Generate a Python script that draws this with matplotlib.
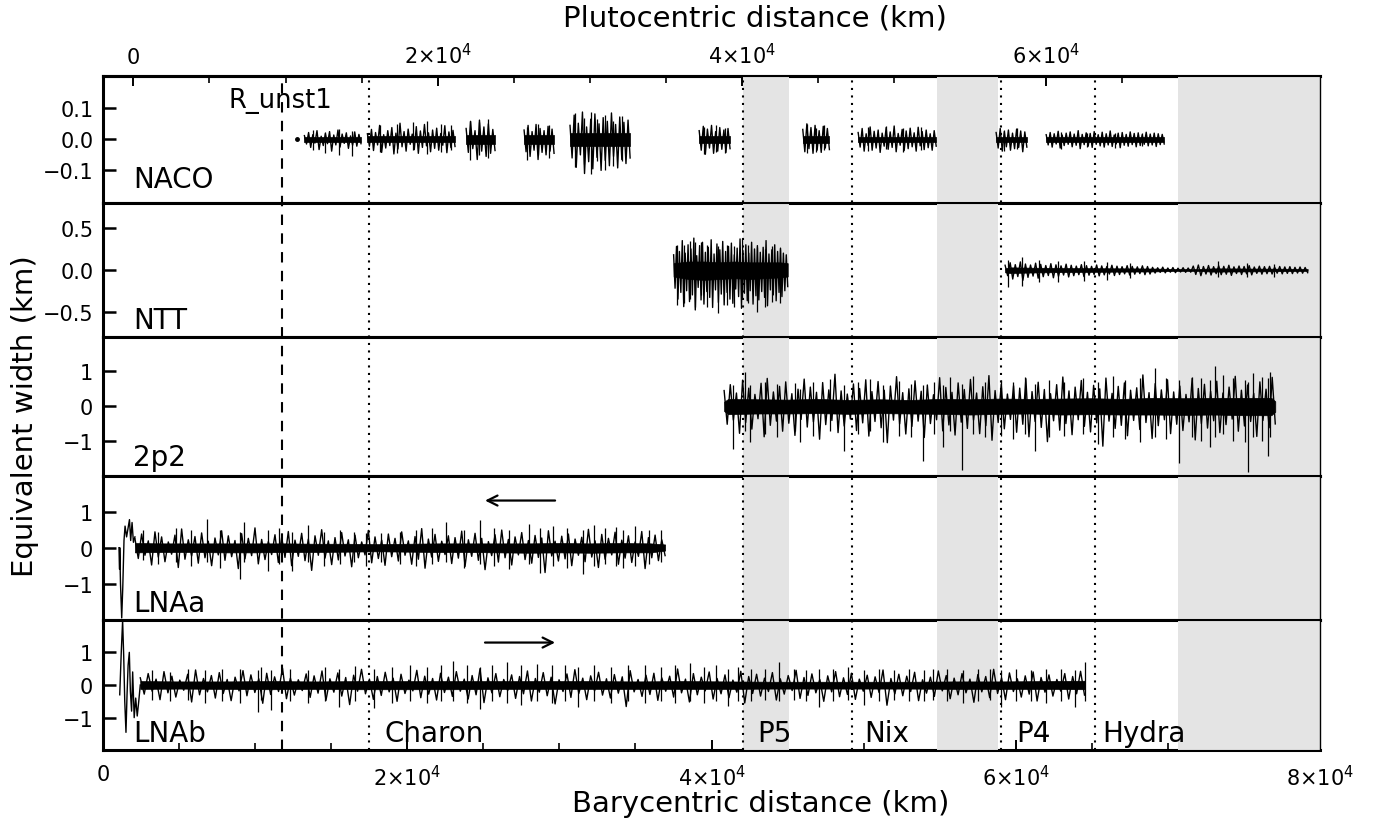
import numpy as np
import matplotlib
matplotlib.use("Agg")
from matplotlib import pyplot as plt
from matplotlib.ticker import FixedLocator, FuncFormatter
from matplotlib.transforms import blended_transform_factory
from matplotlib.lines import Line2D

# ---------------- values (km) ----------------
PLUTO_OFFSET = 2000          # barycentric - plutocentric
R_UNST1 = 11770

MOON_NAMES = ["Charon", "P5", "Nix", "P4", "Hydra"]
MOON_X = [17490, 42040, 49245, 59030, 65195]
MOON_LABEL_X = [18475, 43000, 50030, 60030, 65680]
GREY_START = [42040, 54830, 70665]
GREY_END = [45065, 58825, 80000]

PANELS = ["NACO", "NTT", "2p2", "LNAa", "LNAb"]
PANEL_LABEL_Y = [-0.155, -0.69, -1.68, -1.76, -1.71]

# NACO: separate chunks (dense core, then swings in units of 0.001)
NACO_START = [13240, 17380, 23870, 27680, 30700, 39190, 46000, 49640, 58710, 62000]
NACO_END = [16960, 23140, 25770, 29650, 34650, 41220, 47750, 54770, 60730, 69760]
NACO_HI = [0.008, 0.011, 0.015, 0.013, 0.02, 0.012, 0.012, 0.009, 0.008, 0.007]
NACO_LO = [-0.008, -0.01, -0.015, -0.014, -0.022, -0.013, -0.012, -0.008, -0.008, -0.007]
NACO_DOT = [12730, 0.0]
NACO_MED_UP = [[12, 22, 15, 28, 10, 19, 25, 14, 30, 17, 21, 11, 24, 16],
               [18, 32, 22, 45, 15, 28, 38, 20, 52, 25, 33, 17, 41, 27, 48, 21, 30, 36, 19, 44, 24, 29],
               [35, 58, 28, 62, 40, 50, 32],
               [30, 45, 25, 48, 35, 28, 42, 33],
               [45, 78, 52, 88, 40, 65, 82, 50, 70, 58, 85, 48, 72, 55, 62],
               [28, 42, 33, 45, 25, 38, 30, 35],
               [32, 50, 38, 45, 28, 42, 35],
               [22, 35, 18, 40, 26, 30, 20, 38, 24, 43, 19, 32, 27, 36, 21, 39, 25, 30, 18, 28],
               [22, 35, 25, 30, 20, 33, 27, 24],
               [15, 22, 18, 26, 14, 20, 24, 17, 28, 16, 21, 19, 25, 15, 23, 18, 27, 14, 20, 22,
                16, 24, 19, 21, 15, 23, 17, 20, 18, 16]]
NACO_MED_DN = [[15, 26, 12, 33, 20, 14, 38, 18, 25, 13, 29, 19, 22, 14],
               [22, 36, 18, 42, 28, 20, 47, 31, 24, 38, 16, 33, 45, 26, 21, 40, 29, 35, 19, 43, 27, 23],
               [42, 30, 65, 38, 55, 45, 36],
               [40, 55, 35, 65, 42, 50, 38, 45],
               [60, 90, 50, 110, 72, 95, 58, 100, 68, 85, 55, 92, 65, 78, 60],
               [35, 48, 28, 45, 38, 32, 42, 30],
               [40, 30, 45, 35, 42, 28, 33],
               [25, 38, 20, 35, 28, 42, 22, 32, 26, 40, 19, 36, 30, 24, 38, 21, 33, 27, 35, 22],
               [28, 38, 24, 35, 30, 26, 40, 25],
               [18, 25, 15, 28, 20, 16, 24, 19, 30, 17, 22, 26, 16, 21, 25, 18, 23, 15, 27, 19,
                22, 17, 24, 20, 16, 21, 18, 23, 17, 15]]
NACO_SPK_X = [13800, 14600, 15500, 16400, 18200, 19300, 20400, 21300, 22200, 22900,
              24100, 24700, 25300, 27900, 28600, 29300, 31000, 31600, 32100, 32500,
              33000, 33500, 34100, 39500, 40300, 40900, 46300, 46900, 47400, 50300,
              51500, 52600, 53800, 59200, 60100, 63000, 64700, 66500, 68300]
NACO_SPK_LO = [-0.035, -0.045, -0.05, -0.055, -0.04, -0.045, -0.035, -0.048, -0.042, -0.035,
               -0.065, -0.05, -0.06, -0.065, -0.05, -0.06, -0.09, -0.08, -0.11, -0.07,
               -0.1, -0.085, -0.07, -0.048, -0.04, -0.045, -0.045, -0.04, -0.035, -0.038,
               -0.03, -0.04, -0.035, -0.038, -0.03, -0.03, -0.025, -0.028, -0.022]
NACO_SPK_HI = [0.03, 0.025, 0.032, 0.028, 0.045, 0.05, 0.055, 0.06, 0.05, 0.045,
               0.06, 0.055, 0.065, 0.04, 0.048, 0.045, 0.085, 0.07, 0.088, 0.065,
               0.08, 0.06, 0.075, 0.04, 0.045, 0.035, 0.05, 0.035, 0.045, 0.04,
               0.043, 0.035, 0.04, 0.03, 0.035, 0.025, 0.022, 0.02, 0.022]

# NTT: two chunks
NTT_A_X = [37510, 38500, 39500, 40500, 41500, 42500, 43500, 44500, 45010]
NTT_A_HI = [0.08, 0.1, 0.1, 0.09, 0.1, 0.09, 0.09, 0.09, 0.08]
NTT_A_LO = [-0.08, -0.11, -0.12, -0.11, -0.1, -0.11, -0.1, -0.09, -0.08]
NTT_A_MED_UP = [18, 28, 22, 35, 20, 30, 25, 38, 17, 29, 33, 21, 27, 36, 19, 31, 24, 34, 22, 28,
                32, 18, 26, 37, 23, 30, 20, 33, 25, 29, 21, 27, 35, 19, 24, 30, 22, 26, 20, 18]
NTT_A_MED_DN = [22, 35, 27, 44, 25, 38, 30, 48, 21, 36, 41, 26, 33, 45, 24, 39, 29, 42, 27, 35,
                40, 23, 32, 46, 28, 37, 25, 41, 31, 36, 26, 33, 43, 24, 30, 37, 27, 32, 25, 20]
NTT_B_X = [59300, 59600, 61000, 63000, 65000, 67000, 69000, 70500, 72000, 73000, 75000, 77000, 79190]
NTT_B_HI = [0.018, 0.03, 0.026, 0.022, 0.02, 0.018, 0.016, 0.01, 0.01, 0.018, 0.016, 0.014, 0.01]
NTT_B_LO = [-0.03, -0.038, -0.032, -0.027, -0.024, -0.021, -0.019, -0.013, -0.013, -0.021, -0.019, -0.016, -0.013]
NTT_B_MED_UP = [55, 85, 62, 95, 70, 58, 80, 66, 52, 74, 60, 48, 68, 55, 45, 62, 50, 42, 58, 47,
                40, 55, 44, 38, 50, 41, 36, 48, 40, 30, 25, 32, 22, 28, 20, 26, 22, 45, 58, 40,
                52, 38, 48, 42, 55, 36, 46, 40, 50, 34, 44, 38, 42, 32, 40, 35, 38, 30, 34, 28]
NTT_B_MED_DN = [70, 110, 80, 125, 90, 75, 100, 82, 68, 95, 78, 62, 85, 70, 58, 80, 64, 55, 72, 60,
                50, 68, 56, 48, 62, 52, 45, 58, 50, 38, 30, 36, 28, 34, 26, 30, 28, 55, 70, 50,
                62, 46, 58, 52, 66, 44, 56, 48, 60, 42, 52, 46, 50, 40, 48, 42, 45, 38, 40, 34]
NTT_SPK_X = [37700, 38200, 38590, 38900, 39300, 39700, 40400, 41000, 41490, 41980, 42400, 42960,
             43500, 44000, 44500, 59500, 60400, 61500, 62800, 64500, 66000, 67500, 73300,
             75200, 77000]
NTT_SPK_LO = [-0.42, -0.4, -0.35, -0.45, -0.3, -0.45, -0.52, -0.42, -0.45, -0.35, -0.4, -0.5,
              -0.45, -0.38, -0.4, -0.2, -0.19, -0.15, -0.14, -0.13, -0.12, -0.1, -0.09,
              -0.09, -0.08]
NTT_SPK_HI = [0.3, 0.3, 0.35, 0.33, 0.33, 0.3, 0.28, 0.3, 0.28, 0.37, 0.3, 0.27,
              0.25, 0.28, 0.25, 0.12, 0.15, 0.12, 0.1, 0.1, 0.09, 0.08, 0.1,
              0.08, 0.07]

# 2p2
P2_X = [40830, 41100, 43000, 45000, 47000, 49000, 51000, 53000, 55000, 57000, 59000,
        61000, 63000, 65000, 67000, 69000, 71000, 73000, 75000, 76800, 77060]
P2_HI = [0.13, 0.21, 0.2, 0.19, 0.21, 0.18, 0.2, 0.18, 0.21, 0.2, 0.22,
         0.21, 0.22, 0.23, 0.21, 0.24, 0.23, 0.24, 0.24, 0.24, 0.14]
P2_LO = [-0.14, -0.23, -0.21, -0.21, -0.2, -0.22, -0.2, -0.21, -0.22, -0.24, -0.22,
         -0.21, -0.24, -0.23, -0.24, -0.24, -0.25, -0.24, -0.26, -0.26, -0.16]
P2_MED_UP = [45, 62, 38, 75, 52, 34, 66, 80, 41, 57, 70, 36, 49, 78, 55, 40, 68, 47, 92, 44,
             35, 64, 51, 76, 42, 71, 46, 58, 85, 39, 50, 73, 43, 61, 33, 82, 54, 40, 67, 48,
             77, 38, 56, 88, 45, 63, 35, 59, 52, 79, 42, 69, 48, 36, 62, 84, 44, 55, 74, 40,
             60, 50, 81, 37, 57, 67, 46, 53, 90, 39, 65, 47, 76, 41, 58, 34, 80, 51, 63, 43,
             72, 38, 55, 86, 46, 61, 37, 70, 49, 83]
P2_MED_DN = [52, 40, 78, 47, 66, 36, 88, 55, 43, 72, 49, 84, 38, 60, 45, 95, 53, 41, 76, 57,
             37, 70, 48, 86, 44, 62, 105, 40, 51, 80, 58, 43, 90, 50, 39, 71, 54, 83, 46, 64,
             40, 79, 56, 98, 47, 65, 38, 75, 52, 88, 44, 61, 102, 42, 69, 50, 82, 39, 58, 74,
             48, 115, 43, 64, 55, 85, 41, 67, 47, 93, 56, 39, 79, 52, 70, 45, 97, 50, 63, 42,
             76, 53, 37, 72, 57, 44, 87, 41, 62, 51]
P2_SPK_X = [41390, 42210, 42540, 43500, 44300, 45500, 45830, 46700, 47800, 48720, 49600,
            50430, 51250, 52300, 53100, 53880, 54600, 55200, 55690, 56480, 57170, 58000,
            59000, 59800, 60620, 61270, 62200, 63200, 64400, 65380, 66370, 67200, 68180,
            69170, 69900, 70740, 71600, 72200, 72780, 73110, 73600, 74300, 75080, 75280,
            75580, 76200, 76590, 76730]
P2_SPK_LO = [-1.23, -0.7, -1.04, -0.8, -0.9, -0.7, -1.04, -0.85, -0.7, -1.3, -0.8,
             -0.7, -1.04, -0.85, -0.9, -1.59, -0.8, -1.18, -0.7, -1.85, -0.8, -0.9,
             -0.85, -0.95, -0.8, -1.28, -0.9, -0.85, -0.8, -1.09, -0.9, -0.95, -1.04,
             -0.9, -0.95, -1.64, -0.9, -1.0, -1.18, -0.9, -0.8, -1.0, -1.04, -1.89,
             -0.9, -1.0, -1.42, -0.9]
P2_SPK_HI = [0.6, 0.98, 0.6, 0.7, 0.65, 0.68, 0.5, 0.7, 0.77, 0.6, 0.7,
             0.79, 0.6, 0.72, 0.65, 0.6, 0.7, 0.6, 0.84, 0.65, 0.87, 0.7,
             0.75, 0.7, 0.84, 0.65, 0.75, 0.7, 0.82, 0.7, 0.87, 0.75, 0.8,
             1.1, 0.8, 0.75, 0.85, 0.8, 0.75, 1.15, 0.91, 0.8, 0.75, 0.7,
             0.96, 0.85, 0.8, 0.98]

# LNAa (ingress)
LNAA_HEAD_X = [1050, 1090, 1100, 1150, 1230, 1300, 1380, 1450, 1550, 1650, 1740, 1820, 1910, 2000, 2100]
LNAA_HEAD_Y = [0.0, -0.6, 0.0, -1.0, -1.95, -1.1, 0.2, 0.6, 0.3, 0.55, 0.78, 0.2, 0.7, 0.15, 0.3]
LNAA_X = [2100, 4000, 6000, 8000, 10000, 12000, 14000, 16000, 18000, 20000,
          22000, 24000, 26000, 28000, 30000, 32000, 34000, 36000, 36950]
LNAA_HI = [0.13, 0.12, 0.12, 0.12, 0.12, 0.12, 0.11, 0.11, 0.1, 0.11,
           0.12, 0.12, 0.12, 0.12, 0.13, 0.12, 0.13, 0.12, 0.09]
LNAA_LO = [-0.13, -0.12, -0.12, -0.13, -0.13, -0.12, -0.12, -0.11, -0.1, -0.11,
           -0.12, -0.12, -0.13, -0.14, -0.13, -0.14, -0.13, -0.13, -0.08]
LNAA_MED_UP = [25, 38, 19, 44, 30, 16, 35, 52, 22, 31, 41, 18, 27, 47, 33, 20, 39, 26, 55, 23,
               17, 36, 29, 45, 21, 40, 24, 33, 50, 19, 28, 42, 22, 35, 16, 48, 30, 21, 38, 26,
               44, 19, 31, 53, 24, 37, 18, 33, 28, 46, 22, 40, 26, 17, 36, 49, 23, 30, 42, 20,
               34, 27, 47, 18, 32, 38, 24, 29, 51, 19, 37, 26, 43, 21, 33, 16, 45, 28, 35, 22]
LNAA_MED_DN = [30, 21, 48, 26, 39, 18, 55, 32, 23, 43, 28, 50, 20, 35, 25, 58, 31, 22, 45, 33,
               19, 41, 27, 50, 24, 36, 63, 21, 29, 47, 34, 23, 53, 28, 20, 42, 30, 49, 25, 37,
               21, 46, 32, 57, 26, 38, 19, 44, 29, 52, 24, 35, 61, 22, 40, 28, 48, 20, 33, 43,
               27, 69, 23, 37, 31, 50, 21, 39, 26, 55, 32, 20, 46, 29, 41, 24, 58, 28, 36, 22]
LNAA_SPK_X = [2600, 3600, 4800, 5800, 6810, 7700, 8990, 9290, 10830, 11600, 12430, 13480,
              14500, 15600, 16500, 17290, 18300, 19500, 20600, 21600, 22560, 23730, 24790,
              25700, 26690, 28010, 28730, 29600, 30500, 31530, 32270, 33000, 33730, 34170,
              35000, 35900, 36680]
LNAA_SPK_LO = [-0.35, -0.45, -0.4, -0.5, -0.4, -0.55, -0.87, -0.4, -0.66, -0.45, -0.64, -0.4,
               -0.5, -0.45, -0.4, -0.5, -0.4, -0.45, -0.5, -0.45, -0.4, -0.55, -0.45,
               -0.5, -0.59, -0.45, -0.69, -0.5, -0.55, -0.74, -0.5, -0.45, -0.5, -0.55,
               -0.5, -0.45, -0.4]
LNAA_SPK_HI = [0.5, 0.45, 0.55, 0.5, 0.79, 0.5, 0.45, 0.72, 0.5, 0.55, 0.45, 0.63,
               0.45, 0.5, 0.45, 0.4, 0.42, 0.45, 0.5, 0.55, 0.72, 0.5, 0.77,
               0.55, 0.5, 0.67, 0.55, 0.6, 0.55, 0.5, 0.63, 0.55, 0.58, 0.5,
               0.6, 0.5, 0.49]

# LNAb (egress)
LNAB_HEAD_X = [1100, 1200, 1290, 1360, 1430, 1510, 1580, 1650, 1730, 1800, 1880, 1950,
               2050, 2150, 2250, 2350, 2450]
LNAB_HEAD_Y = [-0.3, 1.0, 1.98, 0.9, -0.5, -1.45, -0.3, 0.6, 1.0, -0.2, -0.8, 0.4,
               -1.0, -0.4, -0.95, -0.5, 0.0]
LNAB_X = [2450, 5000, 8000, 11000, 14000, 17000, 20000, 23000, 26000, 29000, 32000,
          35000, 38000, 41000, 44000, 47000, 50000, 53000, 56000, 59000, 62000, 64520]
LNAB_HI = [0.12, 0.11, 0.11, 0.12, 0.11, 0.12, 0.12, 0.12, 0.12, 0.12, 0.12,
           0.11, 0.12, 0.11, 0.1, 0.1, 0.1, 0.1, 0.11, 0.11, 0.12, 0.13]
LNAB_LO = [-0.12, -0.11, -0.12, -0.13, -0.12, -0.13, -0.13, -0.13, -0.12, -0.12, -0.12,
           -0.12, -0.12, -0.12, -0.11, -0.11, -0.11, -0.11, -0.12, -0.12, -0.12, -0.13]
LNAB_MED_UP = [22, 35, 18, 41, 27, 15, 33, 46, 20, 29, 38, 17, 24, 44, 31, 19, 36, 25, 52, 21,
               16, 34, 28, 43, 19, 37, 23, 30, 48, 18, 26, 39, 21, 33, 15, 45, 27, 20, 36, 24,
               41, 18, 29, 50, 22, 35, 17, 31, 26, 43, 20, 38, 24, 16, 34, 47, 21, 28, 39, 19,
               32, 25, 44, 17, 30, 36, 22, 27, 49, 18, 35, 24, 40, 20, 31, 15, 42, 26, 33, 21,
               38, 19, 29, 45, 23, 34, 17, 28, 41, 22, 36, 18, 30, 25, 46, 20, 33, 27, 39, 16,
               24, 43, 29, 21, 35, 18, 32, 26, 48, 22, 37, 19, 28, 40, 23, 31, 17, 35, 26, 42]
LNAB_MED_DN = [28, 19, 45, 24, 37, 16, 52, 30, 21, 40, 26, 48, 18, 33, 23, 56, 29, 20, 42, 31,
               17, 38, 25, 47, 22, 34, 60, 19, 27, 44, 32, 21, 50, 26, 18, 39, 28, 46, 23, 35,
               19, 43, 30, 54, 24, 36, 17, 41, 27, 49, 22, 33, 58, 20, 38, 26, 45, 18, 31, 40,
               25, 66, 21, 35, 29, 47, 19, 37, 24, 52, 30, 18, 43, 27, 39, 22, 55, 26, 34, 20,
               46, 28, 17, 41, 32, 24, 50, 21, 36, 29, 44, 19, 38, 23, 62, 27, 33, 20, 48, 25,
               35, 18, 42, 30, 24, 53, 21, 39, 26, 45, 20, 37, 28, 49, 22, 34, 19, 43, 27, 31]
LNAB_SPK_X = [3200, 4400, 5600, 6700, 7800, 9000, 10190, 10390, 11050, 12300, 13500, 14600,
              15520, 16570, 17820, 19000, 20200, 21300, 22200, 23010, 23900, 24790, 25600,
              26530, 27500, 28500, 29500, 30400, 31240, 32300, 33400, 34500, 35600, 36700,
              37600, 38560, 39500, 40300, 41100, 41750, 42600, 43500, 44450, 45400, 46200,
              47040, 48000, 48960, 50030, 51000, 52000, 53000, 54000, 54540, 55500, 56500,
              57500, 58300, 59030, 60000, 61000, 62000, 63000, 63870, 64520]
LNAB_SPK_LO = [-0.45, -0.5, -0.45, -0.55, -0.5, -0.55, -0.83, -0.45, -0.76, -0.5, -0.55, -0.5,
               -0.66, -0.5, -0.7, -0.55, -0.5, -0.55, -0.5, -0.5, -0.55, -0.73, -0.5,
               -0.55, -0.6, -0.5, -0.55, -0.5, -0.66, -0.5, -0.55, -0.5, -0.55, -0.5,
               -0.55, -0.5, -0.55, -0.5, -0.64, -0.5, -0.5, -0.45, -0.5, -0.45, -0.5,
               -0.66, -0.5, -0.45, -0.6, -0.5, -0.45, -0.5, -0.5, -0.45, -0.5, -0.55,
               -0.5, -0.45, -0.66, -0.5, -0.5, -0.55, -0.5, -0.66, -0.5]
LNAB_SPK_HI = [0.45, 0.4, 0.5, 0.45, 0.5, 0.5, 0.45, 0.54, 0.45, 0.5, 0.45, 0.55,
               0.5, 0.58, 0.5, 0.55, 0.6, 0.55, 0.6, 0.73, 0.6, 0.55, 0.6,
               0.7, 0.6, 0.65, 0.6, 0.6, 0.55, 0.6, 0.55, 0.6, 0.6, 0.55,
               0.6, 0.68, 0.55, 0.6, 0.5, 0.56, 0.5, 0.5, 0.69, 0.5, 0.45,
               0.5, 0.5, 0.56, 0.45, 0.5, 0.45, 0.5, 0.45, 0.48, 0.5, 0.45,
               0.5, 0.5, 0.45, 0.5, 0.45, 0.5, 0.5, 0.45, 0.7]

ARROW_Y = [1.31, 1.30]
ARROW_X = [24930, 29900]

# ---------------- layout ----------------
W, H = 1377, 829
LEFT_PX, RIGHT_PX = 103, 1320
PANEL_EDGES_PX = [76.7, 204, 337.7, 476.7, 620.7, 751.3]
YLIMS = [0.205, 0.8, 2.0, 2.0, 2.0]
YTICKS = [[-0.1, 0.0, 0.1], [-0.5, 0.0, 0.5], [-1, 0, 1], [-1, 0, 1], [-1, 0, 1]]
YFMT = ["%.1f", "%.1f", "%d", "%d", "%d"]
GREY = "#e4e4e4"
FS_TICK = 15
FS_LAB = 20
FS_AXIS = 21
XMAJ = [0, 20000, 40000, 60000, 80000]
XMIN = list(range(0, 80001, 5000))


def sci_label(v, pos):
    if abs(v) < 1:
        return "0"
    return r"$%d{\times}10^{4}$" % round(v / 1e4)


def noise(ax, x0, x1, up, dn, unit):
    # zig-zag through the read-off swings of one data chunk
    n = min(len(up), len(dn))
    xs = np.linspace(x0, x1, 2 * n)
    ys = []
    for u, d in zip(up[:n], dn[:n]):
        ys += [u * unit, -d * unit]
    ax.plot(xs, ys, lw=1.0, color="black", zorder=4)


fig = plt.figure(figsize=(W / 100, H / 100), dpi=100)
axes = []
for i, name in enumerate(PANELS):
    top, bot = PANEL_EDGES_PX[i], PANEL_EDGES_PX[i + 1]
    ax = fig.add_axes([LEFT_PX / W, 1 - bot / H, (RIGHT_PX - LEFT_PX) / W, (bot - top) / H])
    ax.set_xlim(0, 80000)
    ax.set_ylim(-YLIMS[i], YLIMS[i])
    for s in ["left", "top", "bottom"]:
        ax.spines[s].set_linewidth(2.2)
    ax.spines["right"].set_linewidth(1.0)
    ax.spines["right"].set_zorder(6)
    ax.yaxis.set_major_locator(FixedLocator(YTICKS[i]))
    ax.yaxis.set_major_formatter(FuncFormatter(lambda v, p, f=YFMT[i]: (f % v).replace("-", "\u2212")))
    ax.tick_params(axis="y", direction="in", length=9, width=1.8, labelsize=FS_TICK, pad=7)
    ax.tick_params(axis="x", which="both", bottom=False, top=False, labelbottom=False)
    for g0, g1 in zip(GREY_START, GREY_END):
        ax.axvspan(g0, g1, color=GREY, lw=0, zorder=3)
    # thin boundary line that stays visible across the grey bands
    ax.axhline(YLIMS[i], color="black", lw=0.8, zorder=3.5, clip_on=False)
    ax.text(1970, PANEL_LABEL_Y[i], name, fontsize=FS_LAB, va="baseline", ha="left", zorder=6)
    axes.append(ax)

ax_naco, ax_ntt, ax_2p2, ax_lnaa, ax_lnab = axes
ax_lnab.axhline(-YLIMS[4], color="black", lw=0.8, zorder=3.5, clip_on=False)

# bottom barycentric axis
ax_lnab.tick_params(axis="x", which="both", bottom=True, labelbottom=True, direction="in",
                    labelsize=FS_TICK, pad=10)
ax_lnab.tick_params(axis="x", which="major", length=7, width=1.4)
ax_lnab.tick_params(axis="x", which="minor", length=5, width=1.2)
ax_lnab.xaxis.set_major_locator(FixedLocator(XMAJ))
ax_lnab.xaxis.set_minor_locator(FixedLocator(XMIN))
ax_lnab.xaxis.set_major_formatter(FuncFormatter(sci_label))

# top plutocentric axis
sec = ax_naco.secondary_xaxis("top", functions=(lambda x: x - PLUTO_OFFSET, lambda x: x + PLUTO_OFFSET))
sec.xaxis.set_major_locator(FixedLocator(XMAJ[:4]))
sec.xaxis.set_minor_locator(FixedLocator(XMIN[:-1]))
sec.xaxis.set_major_formatter(FuncFormatter(sci_label))
sec.tick_params(axis="x", which="both", direction="in", labelsize=FS_TICK, pad=6)
sec.tick_params(axis="x", which="major", length=7, width=1.4)
sec.tick_params(axis="x", which="minor", length=5, width=1.2)
sec.spines["top"].set_linewidth(2.2)

# ---------------- traces ----------------
K = dict(color="black", zorder=4)
F = dict(lw=0.5, edgecolor="black", facecolor="black", zorder=4)

for j, (s, e, lo, hi) in enumerate(zip(NACO_START, NACO_END, NACO_LO, NACO_HI)):
    ax_naco.fill_between([s, e], [lo, lo], [hi, hi], **F)
    noise(ax_naco, s, e, NACO_MED_UP[j], NACO_MED_DN[j], 0.001)
ax_naco.vlines(NACO_SPK_X, NACO_SPK_LO, NACO_SPK_HI, lw=0.9, **K)
ax_naco.plot([NACO_DOT[0]], [NACO_DOT[1]], "o", ms=2.5, **K)

ax_ntt.fill_between(NTT_A_X, NTT_A_LO, NTT_A_HI, **F)
noise(ax_ntt, NTT_A_X[0], NTT_A_X[-1], NTT_A_MED_UP, NTT_A_MED_DN, 0.01)
ax_ntt.fill_between(NTT_B_X, NTT_B_LO, NTT_B_HI, **F)
noise(ax_ntt, NTT_B_X[0], NTT_B_X[-1], NTT_B_MED_UP, NTT_B_MED_DN, 0.001)
ax_ntt.vlines(NTT_SPK_X, NTT_SPK_LO, NTT_SPK_HI, lw=0.9, **K)

ax_2p2.fill_between(P2_X, P2_LO, P2_HI, **F)
noise(ax_2p2, P2_X[0], P2_X[-1], P2_MED_UP, P2_MED_DN, 0.01)
ax_2p2.vlines(P2_SPK_X, P2_SPK_LO, P2_SPK_HI, lw=0.9, **K)

ax_lnaa.plot(LNAA_HEAD_X, LNAA_HEAD_Y, lw=1.0, **K)
ax_lnaa.fill_between(LNAA_X, LNAA_LO, LNAA_HI, **F)
noise(ax_lnaa, LNAA_X[0], LNAA_X[-1], LNAA_MED_UP, LNAA_MED_DN, 0.01)
ax_lnaa.vlines(LNAA_SPK_X, LNAA_SPK_LO, LNAA_SPK_HI, lw=0.9, **K)

ax_lnab.plot(LNAB_HEAD_X, LNAB_HEAD_Y, lw=1.0, **K)
ax_lnab.fill_between(LNAB_X, LNAB_LO, LNAB_HI, **F)
noise(ax_lnab, LNAB_X[0], LNAB_X[-1], LNAB_MED_UP, LNAB_MED_DN, 0.01)
ax_lnab.vlines(LNAB_SPK_X, LNAB_SPK_LO, LNAB_SPK_HI, lw=0.9, **K)

# direction arrows
ax_lnaa.annotate("", xy=(ARROW_X[0], ARROW_Y[0]), xytext=(ARROW_X[1], ARROW_Y[0]),
                 arrowprops=dict(arrowstyle="->", lw=1.6, color="black", mutation_scale=18))
ax_lnab.annotate("", xy=(ARROW_X[1], ARROW_Y[1]), xytext=(ARROW_X[0], ARROW_Y[1]),
                 arrowprops=dict(arrowstyle="->", lw=1.6, color="black", mutation_scale=18))

# vertical markers spanning all panels
y_top = 1 - PANEL_EDGES_PX[0] / H
y_bot = 1 - PANEL_EDGES_PX[-1] / H
tr = blended_transform_factory(ax_lnab.transData, fig.transFigure)
fig.add_artist(Line2D([R_UNST1, R_UNST1], [y_bot, y_top - 0.004], transform=tr, color="black",
                      lw=1.5, linestyle=(0, (5, 4)), zorder=5))
for mx in MOON_X:
    fig.add_artist(Line2D([mx, mx], [y_bot, y_top - 0.004], transform=tr, color="black",
                          lw=1.5, linestyle=(0, (1, 2.6)), zorder=5))

ax_naco.text(8280, 0.103, "R_unst1", fontsize=18.5, va="baseline", ha="left", zorder=6)
for name, lx in zip(MOON_NAMES, MOON_LABEL_X):
    ax_lnab.text(lx, -1.71, name, fontsize=FS_LAB, va="baseline", ha="left", zorder=6)

fig.text(755 / W, 1 - 18 / H, "Plutocentric distance (km)", ha="center", va="center", fontsize=FS_AXIS)
fig.text(761 / W, 1 - 804 / H, "Barycentric distance (km)", ha="center", va="center", fontsize=FS_AXIS)
fig.text(25 / W, 1 - 416 / H, "Equivalent width (km)", ha="center", va="center",
         rotation=90, fontsize=FS_AXIS)

fig.savefig("out.png", dpi=100)
